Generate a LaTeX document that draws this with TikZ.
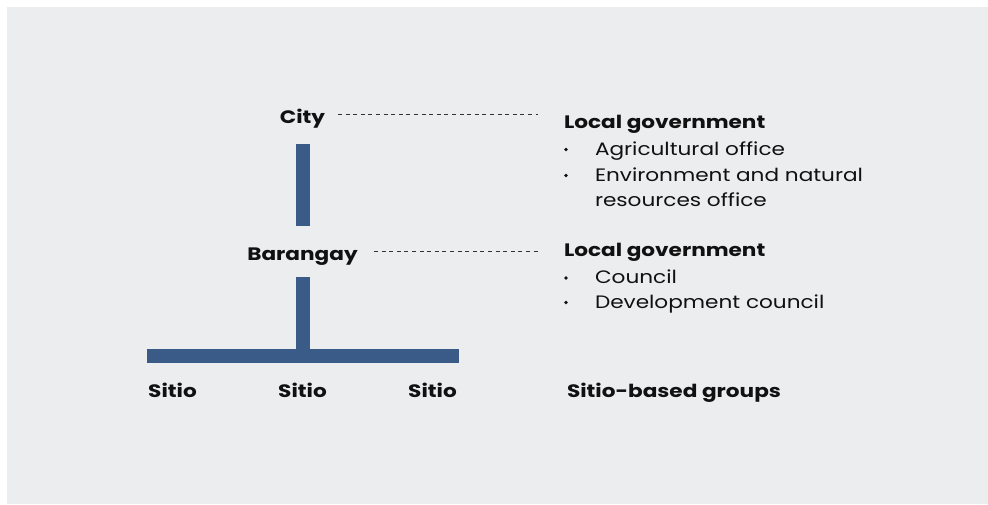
\documentclass[tikz,border=0pt]{standalone}
\usepackage{fontspec}
\setmainfont{Poppins}[FakeStretch=1.2]
\begin{document}
\begin{tikzpicture}[x=1pt,y=-1pt,
  every node/.style={inner sep=0pt,outer sep=0pt,text=inktext},
  level/.style={font=\fontsize{18}{22}\selectfont\bfseries,anchor=base},
  heading/.style={font=\fontsize{18}{22}\selectfont\bfseries,anchor=base west},
  item/.style={font=\fontsize{18}{22}\selectfont,anchor=base west},
  dot/.style={circle,fill=inktext,minimum size=3.8pt},
  bar/.style={draw=barblue,line width=14pt},
  leader/.style={draw=leadergray,line width=0.9pt,dash pattern=on 4pt off 3.6pt}]
\definecolor{panel}{HTML}{ECEDEF}
\definecolor{barblue}{HTML}{3A5B87}
\definecolor{inktext}{HTML}{111111}
\definecolor{leadergray}{HTML}{333333}
\useasboundingbox (0,0) rectangle (988,504);
\fill[white] (0,0) rectangle (988,504);
\fill[panel] (7,7) rectangle (988,504);

% hierarchy levels
\node[level] (city) at (302.5,123.5) {City};
\node[level] (brgy) at (302.5,260.5) {Barangay};
\node[level] (s1) at (172.5,397.5) {Sitio};
\node[level] (s2) at (302.5,397.5) {Sitio};
\node[level] (s3) at (432.5,397.5) {Sitio};

% bar end points
\coordinate (cityfoot) at (302.5,144);
\coordinate (brgyhead) at (302.5,226);
\coordinate (brgyfoot) at (302.5,277);
\coordinate (junction) at (302.5,356);
\coordinate (leftend) at (147,356);
\coordinate (rightend) at (459,356);

\draw[bar] (cityfoot) -- (brgyhead);
\draw[bar] (brgyfoot) -- (junction);
\draw[bar] (leftend) -- (rightend);

% leader lines to the descriptions
\coordinate (cityleadA) at (338,114.5);
\coordinate (cityleadB) at (538,114.5);
\coordinate (brgyleadA) at (374,251);
\coordinate (brgyleadB) at (538,251);
\draw[leader] (cityleadA) -- (cityleadB);
\draw[leader] (brgyleadA) -- (brgyleadB);

% city description
\node[heading] (h1) at (564,128) {Local government};
\node[dot] (b1) at (566,149.5) {};
\node[item] (t1) at (595,155) {Agricultural office};
\node[dot] (b2) at (566,175.5) {};
\node[item] (t2) at (595,181) {Environment and natural};
\node[item] (t3) at (595,206.5) {resources office};

% barangay description
\node[heading] (h2) at (564,256.5) {Local government};
\node[dot] (b3) at (566,278) {};
\node[item] (t4) at (595,283.5) {Council};
\node[dot] (b4) at (566,302.5) {};
\node[item] (t5) at (595,308) {Development council};

% sitio description
\node[heading] (h3) at (567,397) {Sitio-based groups};
\end{tikzpicture}
\end{document}
